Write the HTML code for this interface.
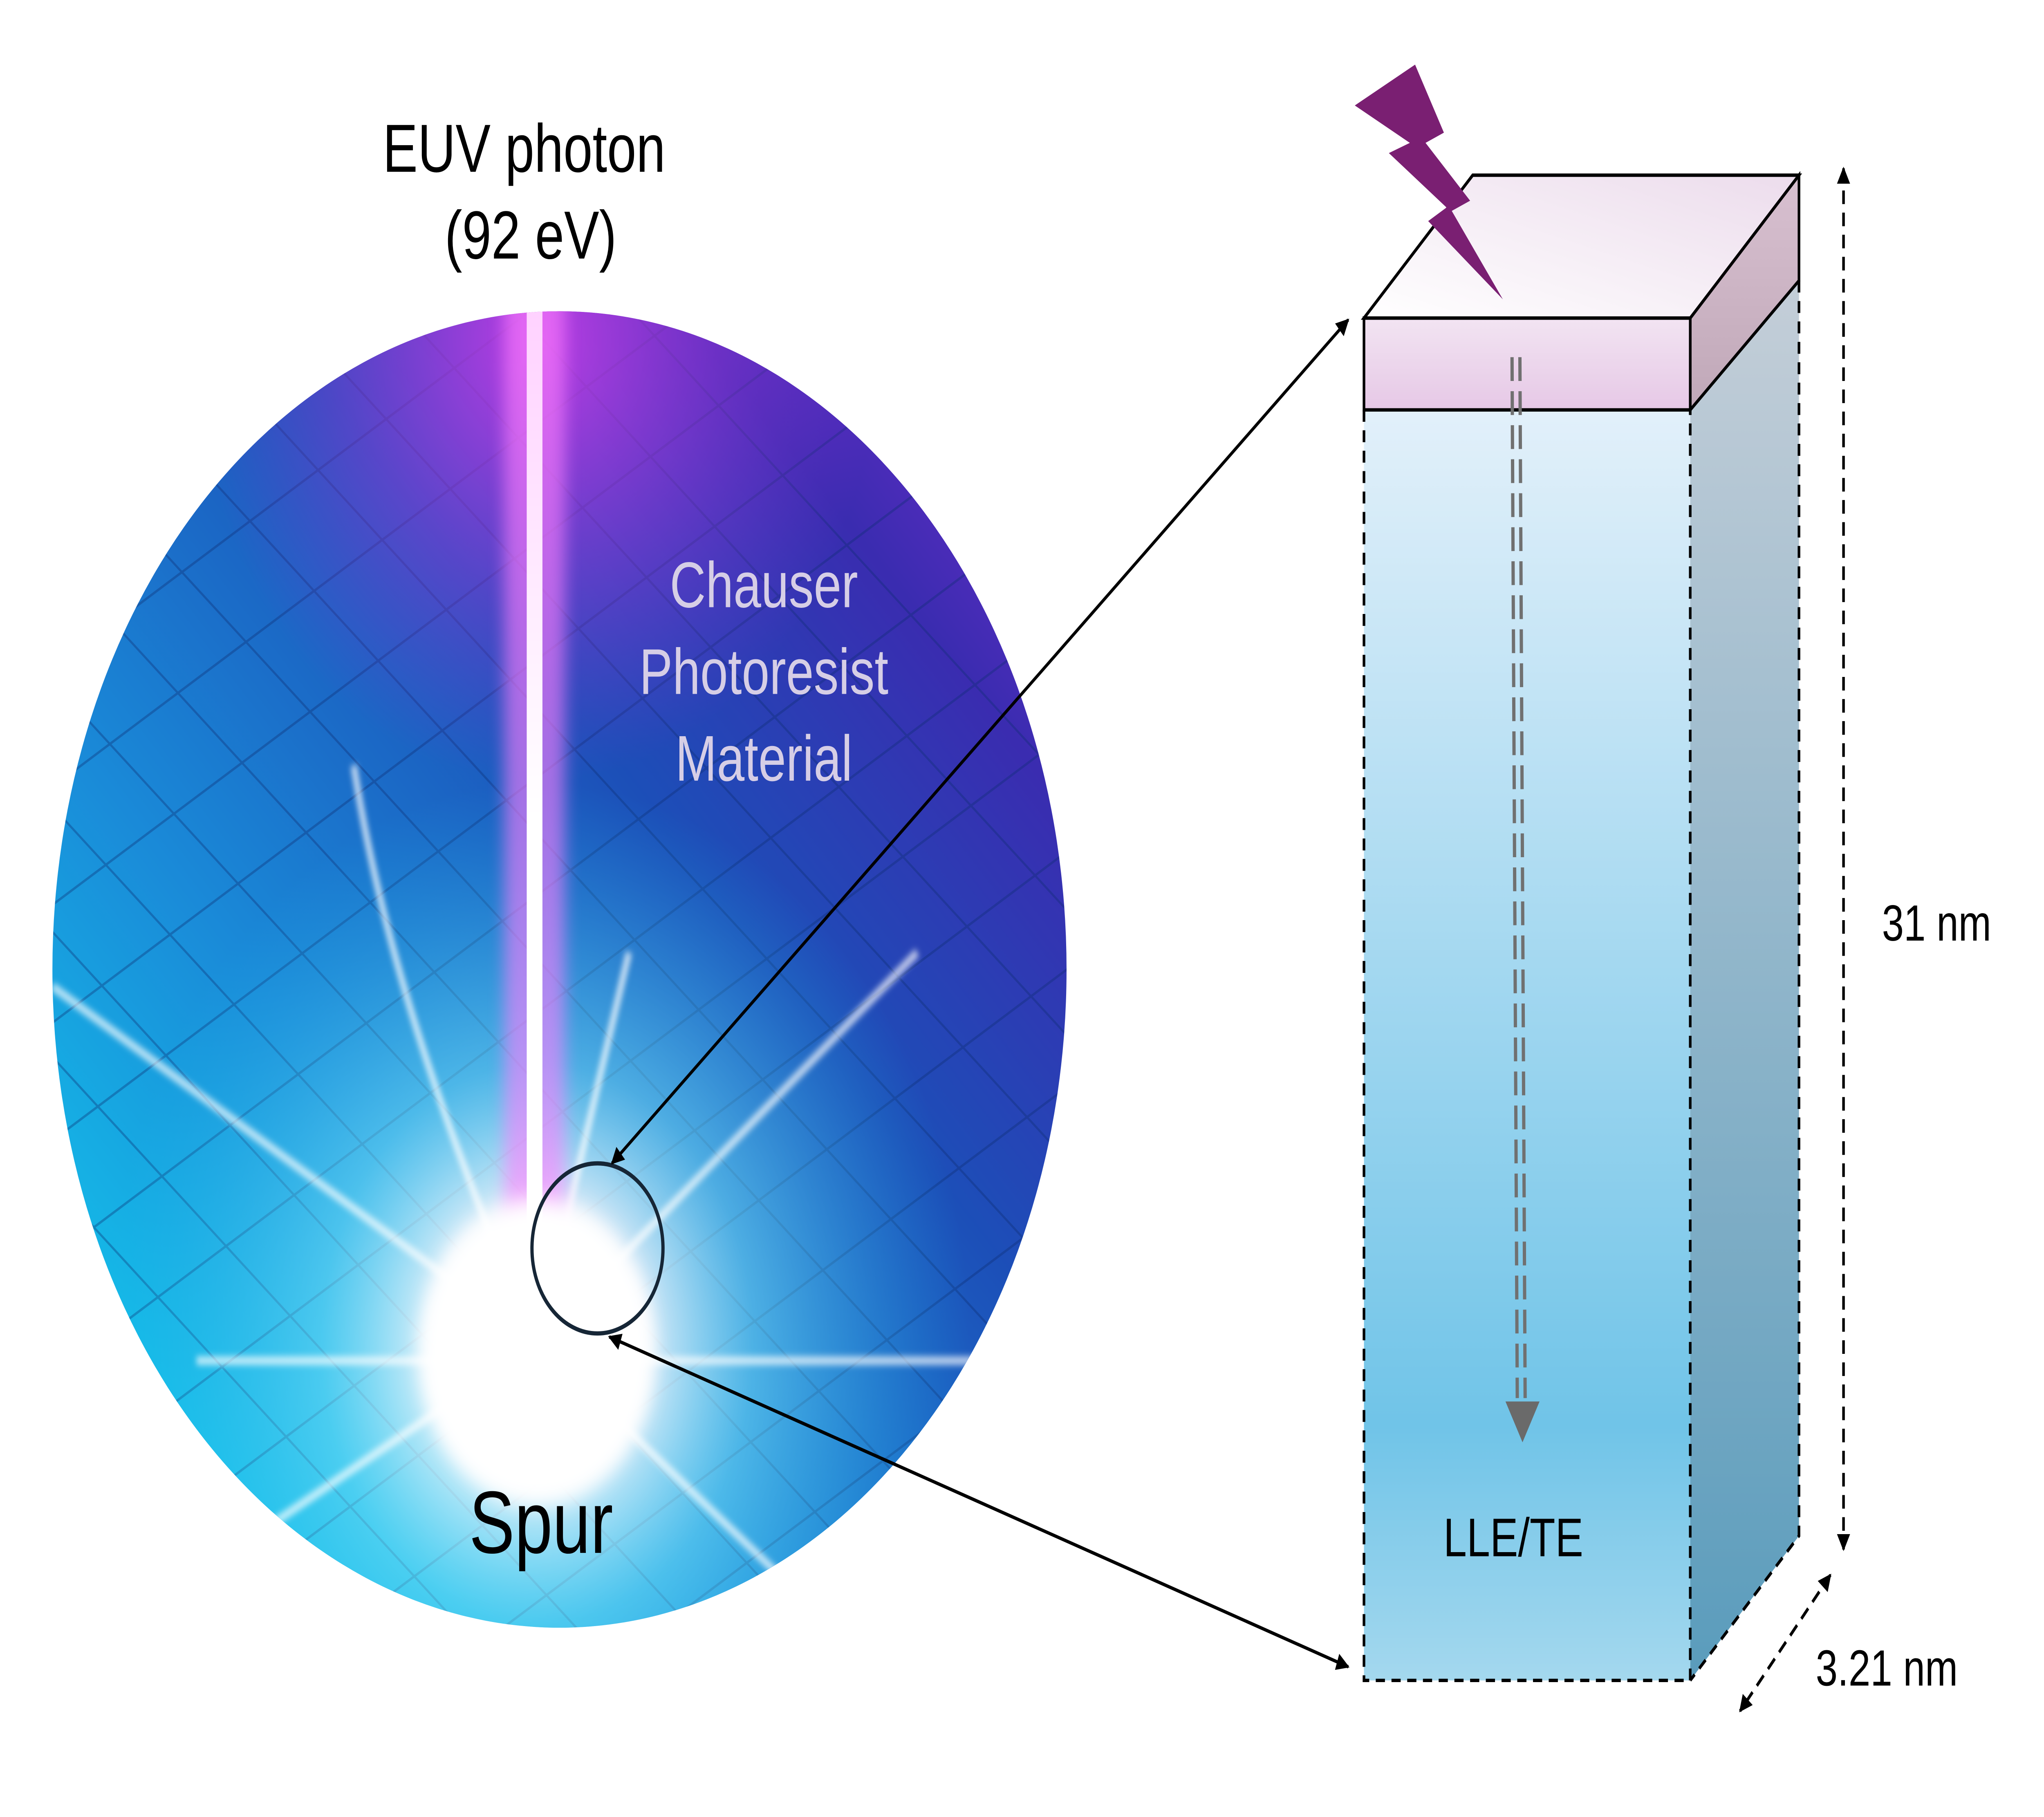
<!DOCTYPE html>
<html><head><meta charset="utf-8"><style>
html,body{margin:0;padding:0;background:#fff;width:100%;height:100%;overflow:hidden;}
svg{display:block;position:absolute;left:0;top:0;width:100vw;height:100vh;}
text{font-family:"Liberation Sans",Arial,sans-serif;}
</style></head><body>
<svg viewBox="0 0 1560 1068.3" preserveAspectRatio="none" xmlns="http://www.w3.org/2000/svg">
<defs>
 <linearGradient id="bg" x1="0" y1="1" x2="1" y2="0">
  <stop offset="0" stop-color="#10e0f4"/>
  <stop offset="0.35" stop-color="#1a8ad8"/>
  <stop offset="0.6" stop-color="#1c4fb8"/>
  <stop offset="0.8" stop-color="#3a2cb0"/>
  <stop offset="1" stop-color="#8a2ad8"/>
 </linearGradient>
 <radialGradient id="glow" cx="410" cy="790" r="330" gradientUnits="userSpaceOnUse">
  <stop offset="0" stop-color="#ffffff" stop-opacity="1"/>
  <stop offset="0.25" stop-color="#ffffff" stop-opacity="0.85"/>
  <stop offset="0.5" stop-color="#7ff0ff" stop-opacity="0.5"/>
  <stop offset="1" stop-color="#20c0f0" stop-opacity="0"/>
 </radialGradient>
 <radialGradient id="pinkTop" cx="410" cy="200" r="260" gradientUnits="userSpaceOnUse">
  <stop offset="0" stop-color="#e040f0" stop-opacity="0.8"/>
  <stop offset="1" stop-color="#a030e0" stop-opacity="0"/>
 </radialGradient>
 <linearGradient id="beam" x1="0" y1="0" x2="0" y2="1">
  <stop offset="0" stop-color="#ffd0ff"/>
  <stop offset="0.5" stop-color="#ffffff"/>
  <stop offset="1" stop-color="#ffffff"/>
 </linearGradient>
 <clipPath id="cc"><circle cx="427" cy="570" r="387"/></clipPath>
 <filter id="blur" x="-50%" y="-50%" width="200%" height="200%"><feGaussianBlur stdDeviation="6"/></filter>
 <filter id="blur2" x="-50%" y="-50%" width="200%" height="200%"><feGaussianBlur stdDeviation="2"/></filter>
 <pattern id="grid" width="60" height="60" patternUnits="userSpaceOnUse" patternTransform="rotate(-30) skewX(20)">
  <path d="M0 0H60M0 0V60" stroke="#0a2a70" stroke-opacity="0.35" stroke-width="3" fill="none"/>
 </pattern>
 <linearGradient id="front" x1="0" y1="0" x2="0" y2="1">
  <stop offset="0" stop-color="#e2f0fa"/>
  <stop offset="0.8" stop-color="#70c4e8"/>
  <stop offset="1" stop-color="#a4d8ee"/>
 </linearGradient>
 <linearGradient id="side" x1="0" y1="0" x2="0" y2="1">
  <stop offset="0" stop-color="#c4ced8"/>
  <stop offset="1" stop-color="#5a9cbc"/>
 </linearGradient>
 <linearGradient id="cap" x1="0" y1="0" x2="0" y2="1">
  <stop offset="0" stop-color="#f2e4f2"/>
  <stop offset="1" stop-color="#e6c8e6"/>
 </linearGradient>
 <linearGradient id="capside" x1="0" y1="0" x2="0" y2="1">
  <stop offset="0" stop-color="#d8c0d0"/>
  <stop offset="1" stop-color="#c0a8b8"/>
 </linearGradient>
 <linearGradient id="top" x1="0" y1="1" x2="1" y2="0">
  <stop offset="0" stop-color="#ffffff"/>
  <stop offset="1" stop-color="#ecdcec"/>
 </linearGradient>
 <marker id="ah" markerWidth="10" markerHeight="10" refX="9" refY="5" orient="auto-start-reverse" markerUnits="userSpaceOnUse">
  <path d="M0,0 L10,5 L0,10 z" fill="#000"/>
 </marker>
</defs>

<g clip-path="url(#cc)">
 <rect x="30" y="170" width="800" height="800" fill="url(#bg)"/>
 <rect x="30" y="170" width="800" height="800" fill="url(#grid)"/>
 <rect x="30" y="170" width="800" height="800" fill="url(#pinkTop)"/>
 <rect x="30" y="170" width="800" height="800" fill="url(#glow)"/>
 <g stroke="#ffffff" stroke-opacity="0.7" stroke-width="5" filter="url(#blur2)" fill="none">
  <path d="M410 790 L40 580"/>
  <path d="M410 790 Q300 600 270 450"/>
  <path d="M410 790 L480 560"/>
  <path d="M410 790 L700 560"/>
  <path d="M410 790 L200 900"/>
  <path d="M410 790 L600 930"/>
  <path d="M150 800 L760 800"/>
 </g>
 <rect x="385" y="170" width="46" height="620" fill="#ff80ff" opacity="0.6" filter="url(#blur)"/>
 <rect x="402" y="170" width="12" height="620" fill="url(#beam)"/>
 <circle cx="410" cy="795" r="90" fill="#fff" filter="url(#blur)"/>
</g>
<circle cx="456" cy="734" r="50" fill="none" stroke="#162636" stroke-width="2.5"/>

<text x="400" y="101" font-size="40" text-anchor="middle">EUV photon</text>
<text x="405" y="152" font-size="40" text-anchor="middle">(92 eV)</text>
<g fill="#d6cee6" font-size="38" text-anchor="middle">
 <text x="583" y="357">Chauser</text>
 <text x="583" y="408">Photoresist</text>
 <text x="583" y="459">Material</text>
</g>
<text x="413" y="913" font-size="52" text-anchor="middle">Spur</text>

<line x1="467" y1="684" x2="1029" y2="188" stroke="#000" stroke-width="2" marker-start="url(#ah)" marker-end="url(#ah)"/>
<line x1="465" y1="786" x2="1029" y2="980" stroke="#000" stroke-width="2" marker-start="url(#ah)" marker-end="url(#ah)"/>

<polygon points="1290,241 1373,165 1373,903 1290,988" fill="url(#side)"/>
<rect x="1041" y="241" width="249" height="747" fill="url(#front)"/>
<polygon points="1290,187 1373,103 1373,165 1290,241" fill="url(#capside)" stroke="#000" stroke-width="2"/>
<rect x="1041" y="187" width="249" height="54" fill="url(#cap)" stroke="#000" stroke-width="2"/>
<polygon points="1041,187 1124,103 1373,103 1290,187" fill="url(#top)" stroke="#000" stroke-width="2"/>
<g stroke="#000" stroke-width="2" stroke-dasharray="7,5" fill="none">
 <path d="M1041 241 V988 H1290 V241"/>
 <path d="M1373 165 V903 L1290 988"/>
</g>
<polygon points="1034,62 1080,38 1102,78 1088,84 1122,118 1108,124 1147,176 1090,130 1104,122 1060,90 1076,84" fill="#7a1f72"/>
<g stroke="#707070" stroke-width="2.5" stroke-dasharray="14,6">
 <line x1="1154" y1="210" x2="1158" y2="822"/>
 <line x1="1160" y1="210" x2="1164" y2="822"/>
</g>
<polygon points="1149,824 1175,824 1162,848" fill="#6a6a6a"/>
<text x="1155" y="915" font-size="32" text-anchor="middle">LLE/TE</text>

<line x1="1407" y1="99" x2="1407" y2="911" stroke="#000" stroke-width="2" stroke-dasharray="8,5" marker-start="url(#ah)" marker-end="url(#ah)"/>
<text x="1478" y="553" font-size="30" text-anchor="middle">31 nm</text>
<line x1="1397" y1="926" x2="1328" y2="1006" stroke="#000" stroke-width="2" stroke-dasharray="8,5" marker-start="url(#ah)" marker-end="url(#ah)"/>
<text x="1440" y="991" font-size="30" text-anchor="middle">3.21 nm</text>
</svg>
</body></html>
